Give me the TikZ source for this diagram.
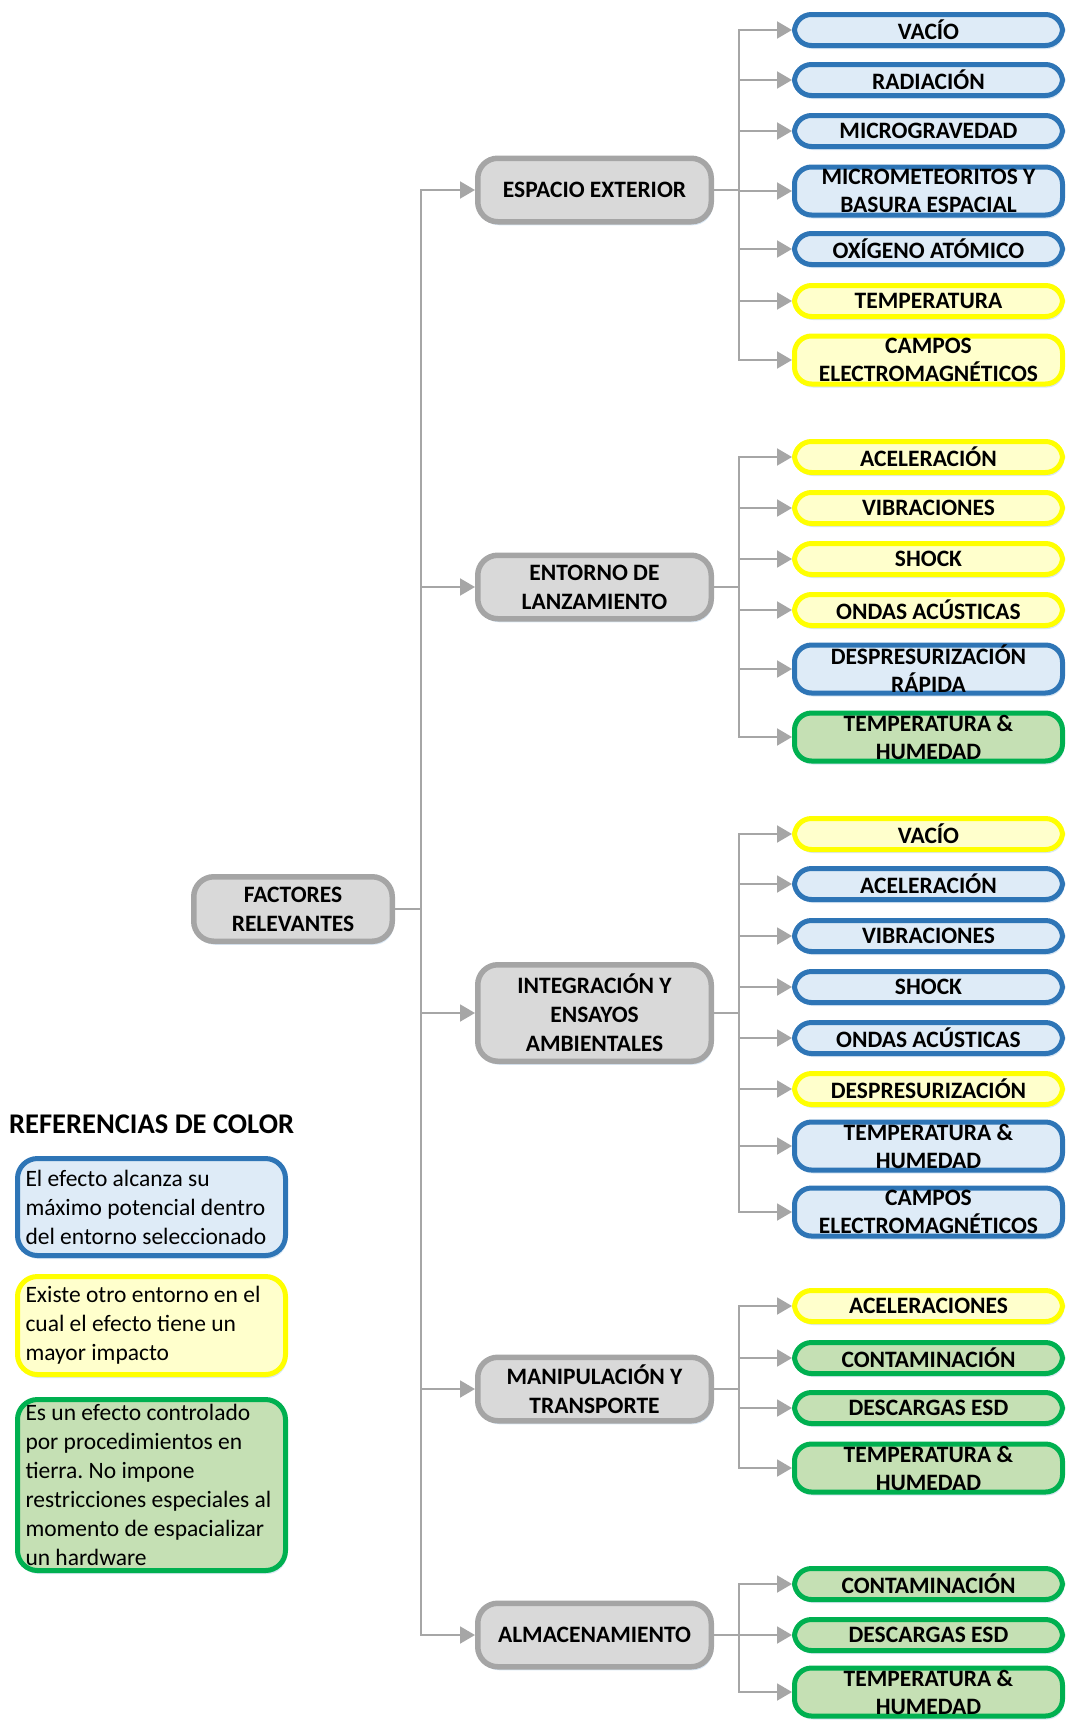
\documentclass[tikz,border=0pt]{standalone}
\usepackage{fontspec}
\setmainfont{Carlito}
\usetikzlibrary{arrows.meta,shadows}
\definecolor{bluebd}{HTML}{2E75B6}
\definecolor{bluefill}{HTML}{DEEBF7}
\definecolor{yelbd}{HTML}{FFFF00}
\definecolor{yelfill}{HTML}{FFFFCC}
\definecolor{grnbd}{HTML}{00B050}
\definecolor{grnfill}{HTML}{C5E0B4}
\definecolor{graybd}{HTML}{A5A5A5}
\definecolor{grayfill}{HTML}{D9D9D9}
\definecolor{connc}{HTML}{A6A6A6}
\definecolor{shadc}{HTML}{C9DDF0}
\newcommand{\boxfont}{\fontsize{23.5}{28}\selectfont\bfseries}
\newcommand{\parfont}{\fontsize{23.5}{29}\selectfont\bfseries}
\newcommand{\legfont}{\fontsize{23.5}{29}\selectfont\frenchspacing}
\tikzset{
  softshadow/.style={drop shadow={shadow xshift=1.5pt, shadow yshift=-3.5pt, fill=shadc, opacity=0.7}},
  childbox/.style={draw, line width=5pt, rounded corners=17pt, minimum width=268pt, minimum height=31pt, inner sep=0pt, align=center, font=\boxfont, softshadow},
  bchild/.style={childbox, draw=bluebd, fill=bluefill},
  ychild/.style={childbox, draw=yelbd, fill=yelfill},
  gchild/.style={childbox, draw=grnbd, fill=grnfill},
  parentbox/.style={draw=graybd, fill=grayfill, line width=5.5pt, rounded corners=20pt, minimum width=233.5pt, minimum height=63.5pt, inner sep=0pt, align=center, font=\parfont, softshadow},
  legbox/.style={line width=5pt, rounded corners=20pt, minimum width=268pt, inner xsep=8pt, inner ysep=0pt, text width=252pt, align=flush left, font=\legfont, softshadow},
  arr/.style={draw=connc, line width=2pt, -{Triangle[length=15pt,width=17pt]}},
  conn/.style={draw=connc, line width=2pt}
}
\begin{document}
\begin{tikzpicture}[x=1pt,y=-1pt]
\useasboundingbox (0,0) rectangle (1070,1722);
\coordinate (mt) at (421,0);
\coordinate (st) at (739,0);
% root
\node[parentbox, minimum width=198.5pt, minimum height=64.5pt] (F) at (293,909) {FACTORES\\RELEVANTES};
% parents
\node[parentbox] (E) at (594.5,190) {ESPACIO EXTERIOR};
\node[parentbox] (L) at (594.5,587) {ENTORNO DE\\LANZAMIENTO};
\node[parentbox, minimum height=96.5pt] (I) at (594.5,1013) {INTEGRACIÓN Y\\ENSAYOS\\AMBIENTALES};
\node[parentbox] (M) at (594.5,1389) {MANIPULACIÓN Y\\TRANSPORTE};
\node[parentbox] (A) at (594.5,1635) {ALMACENAMIENTO};
% espacio exterior children
\node[bchild] (e1) at (928.5,30) {VACÍO};
\node[bchild] (e2) at (928.5,80) {RADIACIÓN};
\node[bchild] (e3) at (928.5,131) {MICROGRAVEDAD};
\node[bchild, minimum height=48pt] (e4) at (928.5,191) {MICROMETEORITOS Y\\BASURA ESPACIAL};
\node[bchild] (e5) at (928.5,249) {OXÍGENO ATÓMICO};
\node[ychild] (e6) at (928.5,301) {TEMPERATURA};
\node[ychild, minimum height=48pt] (e7) at (928.5,360) {CAMPOS\\ELECTROMAGNÉTICOS};
% lanzamiento children
\node[ychild] (l1) at (928.5,457) {ACELERACIÓN};
\node[ychild] (l2) at (928.5,508) {VIBRACIONES};
\node[ychild] (l3) at (928.5,559) {SHOCK};
\node[ychild] (l4) at (928.5,610) {ONDAS ACÚSTICAS};
\node[bchild, minimum height=48pt] (l5) at (928.5,669) {DESPRESURIZACIÓN\\RÁPIDA};
\node[gchild, minimum height=48pt] (l6) at (928.5,737) {TEMPERATURA \&\\HUMEDAD};
% integracion children
\node[ychild] (i1) at (928.5,834) {VACÍO};
\node[bchild] (i2) at (928.5,884) {ACELERACIÓN};
\node[bchild] (i3) at (928.5,936) {VIBRACIONES};
\node[bchild] (i4) at (928.5,987) {SHOCK};
\node[bchild] (i5) at (928.5,1038) {ONDAS ACÚSTICAS};
\node[ychild] (i6) at (928.5,1089) {DESPRESURIZACIÓN};
\node[bchild, minimum height=48pt] (i7) at (928.5,1146) {TEMPERATURA \&\\HUMEDAD};
\node[bchild, minimum height=48pt] (i8) at (928.5,1212) {CAMPOS\\ELECTROMAGNÉTICOS};
% manipulacion children
\node[ychild] (m1) at (928.5,1306) {ACELERACIONES};
\node[gchild] (m2) at (928.5,1358) {CONTAMINACIÓN};
\node[gchild] (m3) at (928.5,1408) {DESCARGAS ESD};
\node[gchild, minimum height=48pt] (m4) at (928.5,1468) {TEMPERATURA \&\\HUMEDAD};
% almacenamiento children
\node[gchild] (a1) at (928.5,1584) {CONTAMINACIÓN};
\node[gchild] (a2) at (928.5,1635) {DESCARGAS ESD};
\node[gchild, minimum height=48pt] (a3) at (928.5,1692) {TEMPERATURA \&\\HUMEDAD};
% main connectors
\foreach \p in {E,L,I,M,A}{
  \draw[arr] (F.east) -- (F.east -| mt) |- (\p.west);
}
% sub connectors
\foreach \c in {e1,e2,e3,e4,e5,e6,e7}{\draw[arr] (E.east) -- (E.east -| st) |- (\c.west);}
\foreach \c in {l1,l2,l3,l4,l5,l6}{\draw[arr] (L.east) -- (L.east -| st) |- (\c.west);}
\foreach \c in {i1,i2,i3,i4,i5,i6,i7,i8}{\draw[arr] (I.east) -- (I.east -| st) |- (\c.west);}
\foreach \c in {m1,m2,m3,m4}{\draw[arr] (M.east) -- (M.east -| st) |- (\c.west);}
\foreach \c in {a1,a2,a3}{\draw[arr] (A.east) -- (A.east -| st) |- (\c.west);}
% legend
\node[anchor=west, inner sep=0pt, font=\fontsize{28.5}{32}\selectfont\bfseries] (lt) at (9,1124) {REFERENCIAS DE COLOR};
\node[legbox, draw=bluebd, fill=bluefill, minimum height=97pt] (lb) at (151.5,1207) {El efecto alcanza su\\máximo potencial dentro\\del entorno seleccionado};
\node[legbox, draw=yelbd, fill=yelfill, minimum height=98pt] (ly) at (151.5,1325.5) {Existe otro entorno en el\\cual el efecto tiene un\\mayor impacto};
\node[legbox, draw=grnbd, fill=grnfill, minimum height=171pt] (lg) at (151.5,1485) {Es un efecto controlado\\por procedimientos en\\tierra. No impone\\restricciones especiales al\\momento de espacializar\\un hardware};
\end{tikzpicture}
\end{document}
